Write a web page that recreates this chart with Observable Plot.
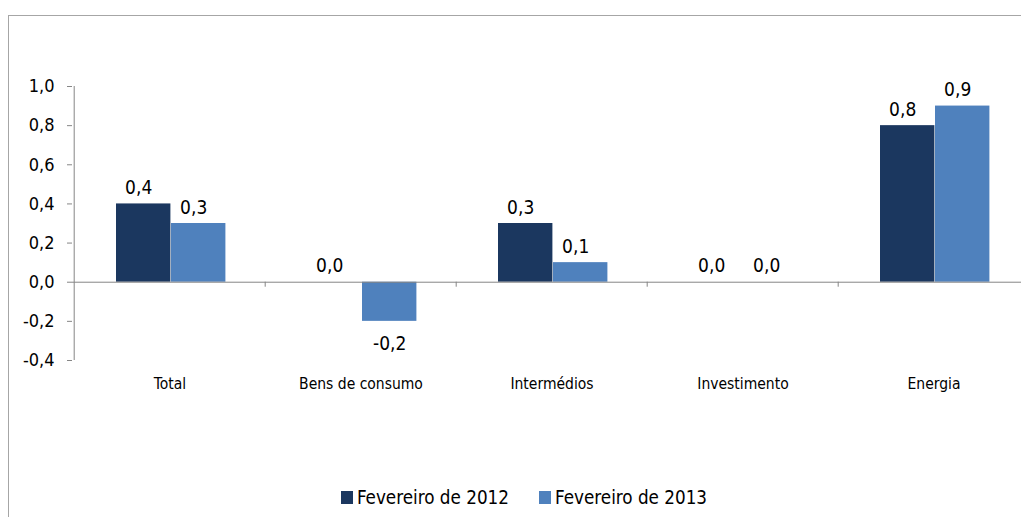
<!DOCTYPE html>
<html>
<head>
<meta charset="utf-8">
<script src="https://cdn.jsdelivr.net/npm/d3@7"></script>
<script src="https://cdn.jsdelivr.net/npm/@observablehq/plot@0.6"></script>
<style>
  html, body { margin: 0; padding: 0; background: #fff; overflow: hidden; width: 1021px; height: 517px; }
  #frame { position: absolute; left: 8px; top: 15px; width: 1100px; height: 600px; border: 1px solid #a6a6a6; box-sizing: border-box; }
  #chart { position: absolute; left: 0; top: 0; width: 1100px; }
  #chart svg { max-width: none !important; }
  #legend { position: absolute; top: 487px; left: 0; width: 1048px; display: flex; justify-content: center; gap: 30px;
            font-family: "DejaVu Sans Condensed", "DejaVu Sans", sans-serif; font-size: 18.7px; color: #000; }
  .item { display: flex; align-items: center; }
  .sw { width: 12px; height: 13px; margin-right: 4px; }
</style>
</head>
<body>
<div id="frame"></div>
<div id="chart"></div>
<div id="legend"></div>
<script>
const categories = ["Total", "Bens de consumo", "Intermédios", "Investimento", "Energia"];
const seriesNames = ["Fevereiro de 2012", "Fevereiro de 2013"];
const values2012 = [0.4, 0.0, 0.3, 0.0, 0.8];
const values2013 = [0.3, -0.2, 0.1, 0.0, 0.9];
const colors = ["#1b375f", "#4f81bd"];
const yTicks = [-0.4, -0.2, 0.0, 0.2, 0.4, 0.6, 0.8, 1.0];

const fmt = v => d3.format(".1f")(v).replace(".", ",").replace("−", "-");

const W = 1030, H = 420, ML = 72, MR = 0, MT = 86, MB = 60;
const step = (W - ML - MR) / categories.length;
const offL = 42, barW = 55;

const d2012 = categories.map((c, i) => ({cat: c, value: values2012[i]}));
const d2013 = categories.map((c, i) => ({cat: c, value: values2013[i]}));

const font = '"DejaVu Sans Condensed", "DejaVu Sans", sans-serif';
const dx12 = offL + barW / 2 - step / 2;
const dx13 = offL + barW * 1.5 - step / 2;

const labelMark = (data, dx) => [
  Plot.text(data.filter(d => d.value >= 0), {x: "cat", y: "value", text: d => fmt(d.value), dx: dx - 5, dy: -10, lineAnchor: "bottom", fontSize: 19, fill: "#000"}),
  Plot.text(data.filter(d => d.value < 0), {x: "cat", y: "value", text: d => fmt(d.value), dx, dy: 15, lineAnchor: "top", fontSize: 19, fill: "#000"})
];

const chart = Plot.plot({
  width: W, height: H,
  marginLeft: ML, marginRight: MR, marginTop: MT, marginBottom: MB,
  style: {fontFamily: font, background: "transparent", overflow: "visible", maxWidth: "none"},
  x: {domain: categories, padding: 0, axis: null},
  y: {domain: [-0.4, 1.0], axis: null},
  marks: [
    Plot.barY(d2012, {x: "cat", y: "value", fill: colors[0], insetLeft: offL, insetRight: step - offL - barW}),
    Plot.barY(d2013, {x: "cat", y: "value", fill: colors[1], insetLeft: offL + barW, insetRight: step - offL - 2 * barW}),
    Plot.ruleY([0], {stroke: "#868686", strokeWidth: 1}),
    Plot.ruleX(categories.slice(1), {x: d => d, y1: 0, y2: 0, insetBottom: -5, dx: -step / 2, stroke: "#868686"}),
    Plot.ruleX([categories[0]], {x: d => d, y1: -0.4, y2: 1.0, dx: -step / 2, stroke: "#868686"}),
    Plot.axisY({ticks: yTicks, tickFormat: fmt, tickSize: 5, tickPadding: 13, fontSize: 18, stroke: "#868686", fill: "#000", label: null}),
    Plot.axisX({tickSize: 0, tickPadding: 17, fontSize: 15.5, anchor: "bottom", fill: "#000", label: null}),
    ...labelMark(d2012, dx12),
    ...labelMark(d2013, dx13)
  ]
});
document.getElementById("chart").appendChild(chart);

const legend = document.getElementById("legend");
seriesNames.forEach((name, i) => {
  const item = document.createElement("div");
  item.className = "item";
  const sw = document.createElement("div");
  sw.className = "sw";
  sw.style.background = colors[i];
  const t = document.createElement("span");
  t.textContent = name;
  item.appendChild(sw); item.appendChild(t);
  legend.appendChild(item);
});
</script>
</body>
</html>
